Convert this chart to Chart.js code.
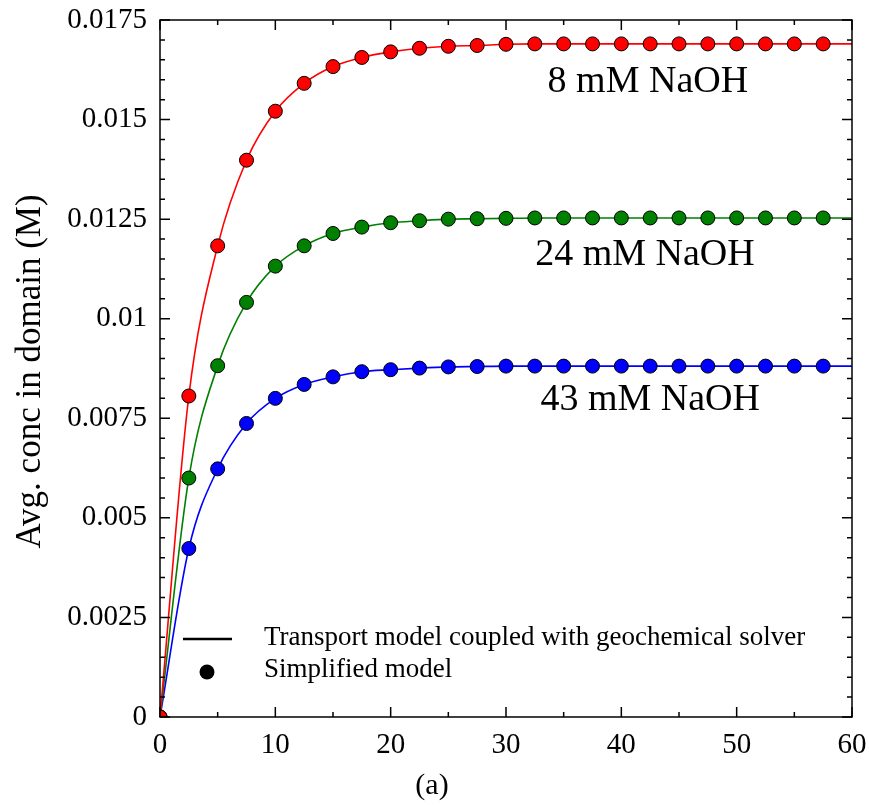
<!DOCTYPE html>
<html>
<head>
<meta charset="utf-8">
<script src="https://cdn.jsdelivr.net/npm/chart.js@4"></script>
<style>
html,body{margin:0;padding:0;background:#fff;}
#wrap{width:869px;height:807px;position:relative;}
</style>
</head>
<body>
<div id="wrap"><canvas id="c" width="869" height="807"></canvas></div>
<script>
// ---- data (time in x-axis units, concentration in M) ----
const timeDots = [0, 2.5, 5, 7.5, 10, 12.5, 15, 17.5, 20, 22.5, 25, 27.5, 30, 32.5, 35, 37.5, 40, 42.5, 45, 47.5, 50, 52.5, 55, 57.5];
const red8mM = [0, 0.00806, 0.01183, 0.01398, 0.01521, 0.01591, 0.01633, 0.01656, 0.01670, 0.01679, 0.01684, 0.01686, 0.01689,
  0.01690, 0.01690, 0.01690, 0.01690, 0.01690, 0.01690, 0.01690, 0.01690, 0.01690, 0.01690, 0.01690];
const green24mM = [0, 0.00600, 0.00882, 0.01041, 0.01132, 0.01183, 0.01214, 0.01230, 0.01241, 0.01246, 0.01250, 0.01251, 0.01252,
  0.01253, 0.01253, 0.01253, 0.01253, 0.01253, 0.01253, 0.01253, 0.01253, 0.01253, 0.01253, 0.01253];
const blue43mM = [0, 0.00423, 0.00623, 0.00737, 0.00800, 0.00835, 0.00854, 0.00867, 0.00872, 0.00876, 0.00879, 0.00880, 0.00881,
  0.00881, 0.00881, 0.00881, 0.00881, 0.00881, 0.00881, 0.00881, 0.00881, 0.00881, 0.00881, 0.00881];
// continuous model curve: same samples plus its value at the end of the axis (t = 60)
const lineEndTime = [60];
const redEnd = [0.01690];
const greenEnd = [0.01253];
const blueEnd = [0.00881];

const xTicks = [0, 10, 20, 30, 40, 50, 60];
const xTickLabels = ['0', '10', '20', '30', '40', '50', '60'];
const yTicks = [0, 0.0025, 0.005, 0.0075, 0.01, 0.0125, 0.015, 0.0175];
const yTickLabels = ['0', '0.0025', '0.005', '0.0075', '0.01', '0.0125', '0.015', '0.0175'];
const seriesNames = ['8 mM NaOH', '24 mM NaOH', '43 mM NaOH'];
const legendLabels = ['Transport model coupled with geochemical solver', 'Simplified model'];
const yTitle = 'Avg. conc in domain (M)';
const xTitle = '(a)';

const COLORS = ['#ff0000', '#008000', '#0000ff'];
const SERIF = '"Liberation Serif", "DejaVu Serif", serif';

const pts = (xs, ys) => xs.map((x, i) => ({x: x, y: ys[i]}));
const lineTime = timeDots.concat(lineEndTime);

const dotSet = (label, ys, color) => ({
  label: label, data: pts(timeDots, ys), showLine: false,
  pointRadius: 7, pointHoverRadius: 7, pointBackgroundColor: color,
  pointBorderColor: '#000', pointBorderWidth: 1, clip: 0
});
const lineSet = (label, ys, color) => ({
  label: label, data: pts(lineTime, ys), showLine: true,
  borderColor: color, borderWidth: 1.6, pointRadius: 0,
  cubicInterpolationMode: 'monotone', fill: false, clip: 0
});

const frame = {
  id: 'frame',
  afterDatasetsDraw(chart) {
    const {ctx, chartArea: a, scales: {x, y}} = chart;
    ctx.save();
    ctx.strokeStyle = '#000';
    ctx.lineWidth = 1.5;
    ctx.strokeRect(a.left, a.top, a.right - a.left, a.bottom - a.top);
    ctx.beginPath();
    for (let i = 0; i <= 12; i++) {
      const px = x.getPixelForValue(i * 5);
      const L = i % 2 === 0 ? 10 : 5;
      ctx.moveTo(px, a.bottom); ctx.lineTo(px, a.bottom - L);
      ctx.moveTo(px, a.top); ctx.lineTo(px, a.top + L);
    }
    for (let i = 0; i <= 35; i++) {
      const py = y.getPixelForValue(i * 0.0005);
      const L = i % 5 === 0 ? 10 : 5;
      ctx.moveTo(a.left, py); ctx.lineTo(a.left + L, py);
      ctx.moveTo(a.right, py); ctx.lineTo(a.right - L, py);
    }
    ctx.stroke();

    // legend
    ctx.fillStyle = '#000';
    ctx.lineWidth = 2.5;
    ctx.beginPath(); ctx.moveTo(183, 639); ctx.lineTo(232, 639); ctx.stroke();
    ctx.beginPath(); ctx.arc(207, 672, 7.5, 0, Math.PI * 2); ctx.fill();
    ctx.font = '27px ' + SERIF;
    ctx.textAlign = 'left'; ctx.textBaseline = 'middle';
    ctx.fillText(legendLabels[0], 264, 638);
    ctx.fillText(legendLabels[1], 264, 670);

    // series annotations
    ctx.font = '38px ' + SERIF;
    ctx.textAlign = 'center';
    const ann = [[42.3, 0.01595], [42.05, 0.0116], [42.5, 0.00796]];
    ann.forEach((p, i) => ctx.fillText(seriesNames[i], x.getPixelForValue(p[0]), y.getPixelForValue(p[1])));

    // axis titles
    ctx.font = '30px ' + SERIF;
    ctx.fillText(xTitle, 432, 786);
    ctx.save();
    ctx.translate(31, (a.top + a.bottom) / 2 + 3);
    ctx.rotate(-Math.PI / 2);
    ctx.font = '35px ' + SERIF;
    ctx.fillText(yTitle, 0, 0);
    ctx.restore();
    ctx.restore();
  }
};

new Chart(document.getElementById('c'), {
  type: 'scatter',
  data: {
    datasets: [
      dotSet(seriesNames[0], red8mM, COLORS[0]),
      dotSet(seriesNames[1], green24mM, COLORS[1]),
      dotSet(seriesNames[2], blue43mM, COLORS[2]),
      lineSet(seriesNames[0], red8mM.concat(redEnd), COLORS[0]),
      lineSet(seriesNames[1], green24mM.concat(greenEnd), COLORS[1]),
      lineSet(seriesNames[2], blue43mM.concat(blueEnd), COLORS[2])
    ]
  },
  options: {
    responsive: false, animation: false, devicePixelRatio: 1,
    layout: {padding: {top: 20, right: 17, left: 0, bottom: 0}},
    plugins: {legend: {display: false}, tooltip: {enabled: false}},
    scales: {
      x: {
        type: 'linear', min: 0, max: 60,
        grid: {display: false, drawTicks: false}, border: {display: false},
        afterBuildTicks: s => { s.ticks = xTicks.map(v => ({value: v})); },
        ticks: {font: {family: SERIF, size: 29}, color: '#000', padding: 11, maxRotation: 0, autoSkip: false,
          callback: (v, i) => xTickLabels[i]},
        afterFit: s => { s.height = 90; s.paddingLeft = 0; s.paddingRight = 0; }
      },
      y: {
        type: 'linear', min: 0, max: 0.0175,
        grid: {display: false, drawTicks: false}, border: {display: false},
        afterBuildTicks: s => { s.ticks = yTicks.map(v => ({value: v})); },
        ticks: {font: {family: SERIF, size: 29}, color: '#000', padding: 13, autoSkip: false,
          callback: (v, i) => yTickLabels[i]},
        afterFit: s => { s.width = 160; s.paddingTop = 0; s.paddingBottom = 0; }
      }
    }
  },
  plugins: [frame]
});
</script>
</body>
</html>
